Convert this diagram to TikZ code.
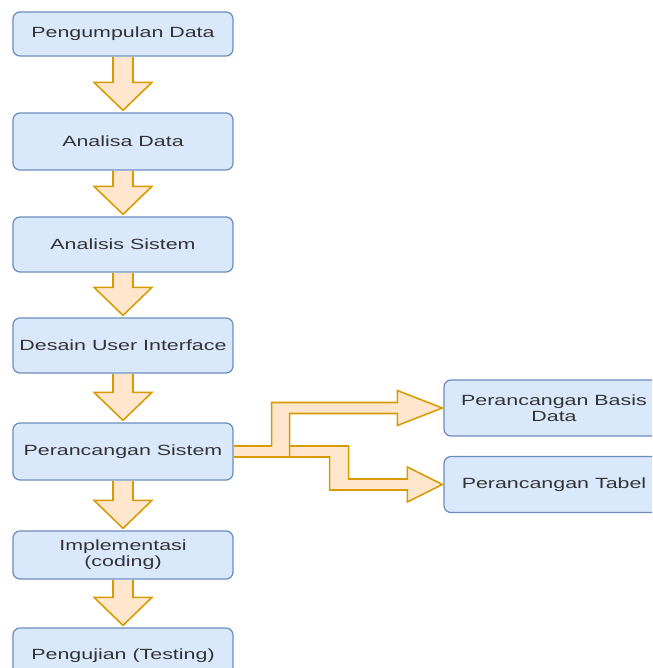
\documentclass[tikz,border=0pt]{standalone}
\usepackage{fontspec}
\newfontfamily\boxfont{Liberation Sans}[FakeStretch=1.45]
\usetikzlibrary{calc}
\definecolor{boxfill}{HTML}{DAE8FC}
\definecolor{boxline}{HTML}{6C8EBF}
\definecolor{arrfill}{HTML}{FFE6CC}
\definecolor{arrline}{HTML}{D79B00}
\definecolor{txt}{HTML}{333333}

\begin{document}
\begin{tikzpicture}[x=0.025cm, y=-0.025cm,
    every node/.style={font={\boxfont\fontsize{10.5}{11.5}\selectfont}, text=txt},
    stage/.style={rectangle, draw=boxline, fill=boxfill, rounded corners=5pt,
                  line width=0.9pt, minimum width=5.5cm, minimum height=1.375cm,
                  inner sep=1pt, align=center},
    fat/.style={draw=arrline, fill=arrfill, line width=1.1pt, line join=miter},
  ]
  \clip (0,0) rectangle (652,668);
  % main column
  \node[stage, minimum height=1.1cm] (b1) at (123,34) {Pengumpulan Data};
  \node[stage, minimum height=1.425cm] (b2) at (123,141.5) {Analisa Data};
  \node[stage] (b3) at (123,244.5) {Analisis Sistem};
  \node[stage] (b4) at (123,345.5) {Desain User Interface};
  \node[stage, minimum height=1.425cm] (b5) at (123,451.5) {Perancangan Sistem};
  \node[stage, minimum height=1.2cm] (b6) at (123,555) {Implementasi\\(coding)};
  \node[stage] (b7) at (123,655.5) {Pengujian (Testing)};
  % side boxes
  \node[stage, minimum height=1.4cm] (r1) at (554,408) {Perancangan Basis\\Data};
  \node[stage, minimum height=1.4cm] (r2) at (554,484.5) {Perancangan Tabel};
  % fat arrows down the column
  \foreach \a/\b in {b1/b2, b2/b3, b3/b4, b4/b5, b5/b6, b6/b7}
    \draw[fat] ($(\a.south)+(-10,0.5)$) -- ($(\b.north)+(-10,-30)$) -- ++(-19,0)
      -- ($(\b.north)+(0,-2)$) -- ($(\b.north)+(29,-30)$) -- ++(-19,0)
      -- ($(\a.south)+(10,0.5)$);
  % branch to the side boxes
  \draw[fat] ($(b5.east)+(0.5,-5.5)$) -- ++(114.5,0) |- ($(r2.west)+(-36,-5.5)$)
    -- ++(0,-12) -- ($(r2.west)+(-1,0)$) -- ($(r2.west)+(-36,17.5)$) -- ++(0,-12)
    -| ($(b5.east)+(96,5.5)$) -- ($(b5.east)+(0.5,5.5)$);
  \draw[fat] ($(b5.east)+(0.5,-5.5)$) -- ++(37.5,0) |- ($(r1.west)+(-46,-5.5)$)
    -- ++(0,-12) -- ($(r1.west)+(-1,0)$) -- ($(r1.west)+(-46,17.5)$) -- ++(0,-12)
    -| ($(b5.east)+(56,5.5)$) -- ($(b5.east)+(0.5,5.5)$);
\end{tikzpicture}
\end{document}
